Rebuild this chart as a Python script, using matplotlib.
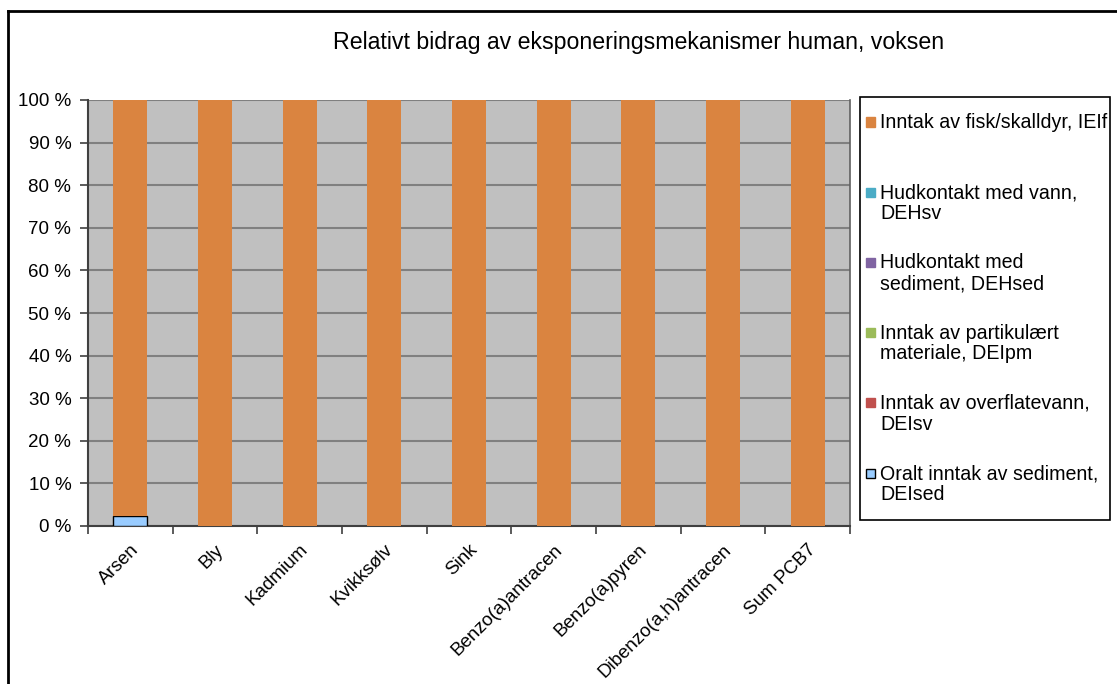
import matplotlib.pyplot as plt
from matplotlib.patches import Rectangle
from matplotlib.lines import Line2D
from matplotlib.ticker import FuncFormatter
import numpy as np

plt.rcParams["font.family"] = ["Liberation Sans", "DejaVu Sans"]

# ---------------------------------------------------------------------------
# data (share of total exposure, %)
# ---------------------------------------------------------------------------
categories = ["Arsen", "Bly", "Kadmium", "Kvikksølv", "Sink",
              "Benzo(a)antracen", "Benzo(a)pyren", "Dibenzo(a,h)antracen",
              "Sum PCB7"]

# stacked bottom -> top
series_labels = [
    "Oralt inntak av sediment,\nDEIsed",
    "Inntak av overflatevann,\nDEIsv",
    "Inntak av partikulært\nmateriale, DEIpm",
    "Hudkontakt med\nsediment, DEHsed",
    "Hudkontakt med vann,\nDEHsv",
    "Inntak av fisk/skalldyr, IEIf",
]
deised = [2.3, 0, 0, 0, 0, 0, 0, 0, 0]
deisv = [0, 0, 0, 0, 0, 0, 0, 0, 0]
deipm = [0, 0, 0, 0, 0, 0, 0, 0, 0]
dehsed = [0, 0, 0, 0, 0, 0, 0, 0, 0]
dehsv = [0, 0, 0, 0, 0, 0, 0, 0, 0]
ieif = [97.7, 100, 100, 100, 100, 100, 100, 100, 100]
series_values = [deised, deisv, deipm, dehsed, dehsv, ieif]

colors = ["#99CCFF", "#C0504D", "#9BBB59", "#8064A2", "#4BACC6", "#DA8440"]
edges = ["black", "none", "none", "none", "none", "none"]

title = "Relativt bidrag av eksponeringsmekanismer human, voksen"

# ---------------------------------------------------------------------------
W, H = 1117, 684
fig = plt.figure(figsize=(W / 100, H / 100), dpi=100)
ax = fig.add_axes([88 / W, 1 - 526 / H, 762 / W, 426 / H])
ax.set_facecolor("#C0C0C0")

x = np.arange(len(categories))
bottom = np.zeros(len(categories))
for vals, col, ec in zip(series_values, colors, edges):
    vals = np.asarray(vals, dtype=float)
    ax.bar(x, vals, 0.4, bottom=bottom, color=col, edgecolor=ec,
           linewidth=1.0 if ec != "none" else 0, zorder=3)
    bottom += vals

ax.set_xlim(-0.5, len(categories) - 0.5)
ax.set_ylim(0, 100)
ax.set_yticks(np.arange(0, 101, 10))
ax.yaxis.set_major_formatter(FuncFormatter(lambda v, p: f"{v:.0f} %"))
ax.yaxis.grid(True, color="#808080", lw=1.5, zorder=1)
ax.set_axisbelow(True)

ax.set_xticks(np.arange(len(categories) + 1) - 0.5)
ax.set_xticklabels([])
ax.set_xticks(x, minor=True)
ax.set_xticklabels(categories, minor=True, rotation=45, ha="right",
                   rotation_mode="anchor", fontsize=13.5)
ax.tick_params(axis="x", which="minor", length=0, pad=11)
ax.tick_params(axis="x", which="major", length=6, width=1.2, color="#404040")
ax.tick_params(axis="y", length=6, width=1.2, color="#404040",
               labelsize=13.5, pad=6)
for s in ("left", "bottom"):
    ax.spines[s].set_color("#404040")
    ax.spines[s].set_linewidth(1.5)
ax.spines["right"].set_color("#606060")
ax.spines["right"].set_linewidth(1.2)
ax.spines["top"].set_visible(False)

fig.text(639 / W, 1 - 43 / H, title, ha="center", va="center", fontsize=16.7)

# outer chart frame (top and left edges visible)
fig.add_artist(Line2D([8 / W, 1], [1 - 11 / H, 1 - 11 / H], color="black", lw=2))
fig.add_artist(Line2D([8 / W, 8 / W], [0, 1 - 11 / H], color="black", lw=2))

# legend box, Excel style (marker aligned to first line)
fig.add_artist(Rectangle((860 / W, 1 - 520 / H), 250 / W, 423 / H,
                         transform=fig.transFigure, facecolor="white",
                         edgecolor="black", lw=1.2))
for i, idx in enumerate(range(len(series_labels) - 1, -1, -1)):
    yc = 122 + 70.2 * i
    fig.add_artist(Rectangle((866 / W, 1 - (yc + 4.5) / H), 9 / W, 9 / H,
                             transform=fig.transFigure,
                             facecolor=colors[idx],
                             edgecolor=edges[idx] if edges[idx] != "none" else colors[idx],
                             lw=1))
    fig.text(880 / W, 1 - (yc - 9) / H, series_labels[idx], ha="left",
             va="top", fontsize=14.1, linespacing=1.12)

fig.savefig("out.png", dpi=100)
